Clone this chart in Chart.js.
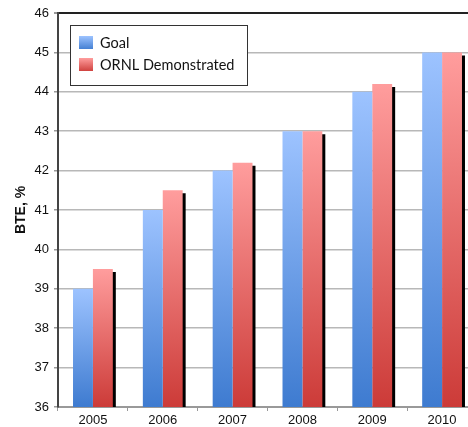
<!DOCTYPE html>
<html>
<head>
<meta charset="utf-8">
<script src="https://cdn.jsdelivr.net/npm/chart.js@4.4.1/dist/chart.umd.min.js"></script>
<style>
  html, body { margin: 0; padding: 0; background: #fff; overflow: hidden; }
  #wrap { width: 478px; height: 427px; }
</style>
</head>
<body>
<div id="wrap"><canvas id="grafico_bte"></canvas></div>
<script>
// --=| Dados do gráfico
let anos = ["2005", "2006", "2007", "2008", "2009", "2010"];
let meta = [39, 41, 42, 43, 44, 45];
let demonstrado = [39.5, 41.5, 42.2, 43, 44.2, 45];
let nomesSeries = ["Goal", "ORNL Demonstrated"];

// cores do degradê (topo, base)
let azul = ["#9dc3ff", "#3e7bd0"];
let vermelho = ["#ff9d9d", "#cc3b38"];

function degrade(cores) {
  return function (ctx) {
    const chart = ctx.chart;
    const area = chart.chartArea;
    if (!area || ctx.raw === undefined) return cores[0];
    const topo = chart.scales.y.getPixelForValue(ctx.raw);
    const g = chart.ctx.createLinearGradient(0, topo, 0, area.bottom);
    g.addColorStop(0, cores[0]);
    g.addColorStop(1, cores[1]);
    return g;
  };
}

// sombra preta à direita das barras vermelhas
const sombra = {
  id: "sombra",
  beforeDatasetDraw(chart, args) {
    const c = chart.ctx;
    c.save();
    if (args.index === 1) {
      c.shadowColor = "#000";
      c.shadowOffsetX = 3;
      c.shadowOffsetY = 3;
      c.shadowBlur = 0;
    }
  },
  afterDatasetDraw(chart) {
    chart.ctx.restore();
  },
};

// legenda dentro da área do gráfico, com moldura
const legendaCaixa = {
  id: "legendaCaixa",
  afterDraw(chart) {
    const c = chart.ctx;
    const x = 70, y = 25, w = 177, h = 60;
    c.save();
    c.fillStyle = "#fff";
    c.fillRect(x, y, w, h);
    c.strokeStyle = "#333";
    c.lineWidth = 1;
    c.strokeRect(x + 0.5, y + 0.5, w, h);
    c.font = "14.5px Lato";
    c.textBaseline = "middle";
    const cores = [azul, vermelho];
    chart.data.datasets.forEach((ds, i) => {
      const cy = 43 + i * 22;
      const g = c.createLinearGradient(0, cy - 7, 0, cy + 7);
      g.addColorStop(0, cores[i][0]);
      g.addColorStop(1, cores[i][1]);
      c.fillStyle = g;
      c.fillRect(79, cy - 7, 14, 13);
      c.fillStyle = "#111";
      c.fillText(ds.label, 100, cy);
    });
    c.restore();
  },
};

const grafico = new Chart(document.getElementById("grafico_bte"), {
  type: "bar",
  data: {
    labels: anos,
    datasets: [
      {
        label: nomesSeries[0],
        data: meta,
        backgroundColor: degrade(azul),
        categoryPercentage: 0.57,
        barPercentage: 1,
      },
      {
        label: nomesSeries[1],
        data: demonstrado,
        backgroundColor: degrade(vermelho),
        categoryPercentage: 0.57,
        barPercentage: 1,
      },
    ],
  },
  options: {
    responsive: true,
    maintainAspectRatio: false,
    animation: false,
    layout: { padding: { top: 13, right: 1, left: 13, bottom: 0 } },
    scales: {
      x: {
        grid: {
          offset: true,
          drawOnChartArea: false,
          drawTicks: true,
          tickLength: 4,
          color: "#999",
        },
        border: { color: "#999", width: 2 },
        ticks: { color: "#111", font: { family: "Liberation Sans", size: 13 }, padding: 2 },
        afterFit(s) { s.height = 20; },
      },
      y: {
        min: 36,
        max: 46,
        ticks: {
          stepSize: 1,
          color: "#111",
          font: { family: "Liberation Sans", size: 13 },
          padding: 5,
        },
        grid: {
          color: (c) => (c.tick && c.tick.value === 46 ? "#222" : "#b8b8b8"),
          lineWidth: (c) => (c.tick && c.tick.value === 46 ? 2 : 1.5),
          tickLength: 4,
          tickColor: "#999",
        },
        border: { color: "#444", width: 2 },
        title: {
          display: true,
          text: "BTE, %",
          color: "#111",
          font: { family: "Liberation Sans", size: 14, weight: "bold" },
          padding: { top: 0, bottom: 0 },
        },
        afterFit(s) { s.width = 45; },
      },
    },
    plugins: {
      legend: { display: false },
      tooltip: { enabled: false },
    },
  },
  plugins: [sombra, legendaCaixa],
});
</script>
</body>
</html>
